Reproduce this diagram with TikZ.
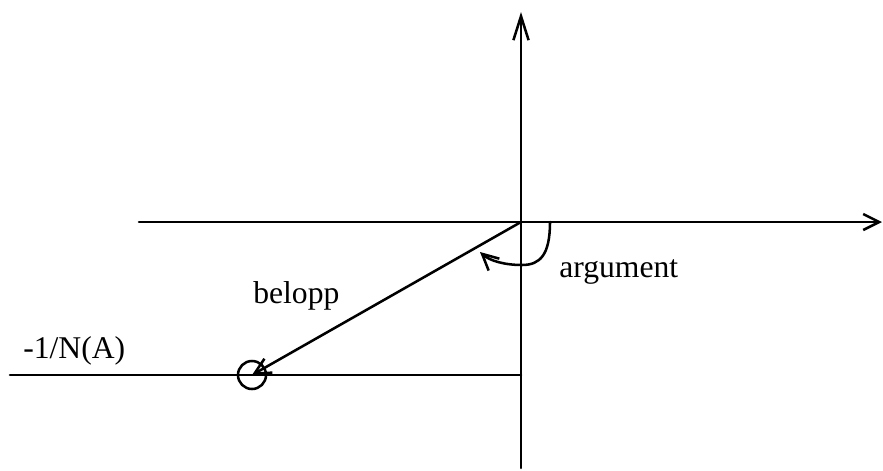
\documentclass[tikz,border=0pt]{standalone}
\usepackage{fontspec}
\setmainfont{Liberation Serif}
\usetikzlibrary{arrows.meta}

\begin{document}
\begin{tikzpicture}[x=0.025cm,y=-0.025cm,line cap=round,line join=round,
  axis/.style={line width=1.8pt},
  barb/.style={-{Straight Barb[length=0.4cm,width=0.4cm,line width=1.8pt]}},
  lbl/.style={font=\fontsize{22.5}{26}\selectfont,inner sep=0pt,anchor=base west}]

\useasboundingbox (0,0) rectangle (883,470);

% axes end points
\coordinate (O) at (521,222);
\coordinate (Xl) at (139,222);
\coordinate (Xr) at (882,222);
\coordinate (Yb) at (521,468);
\coordinate (Yt) at (521,12);

% describing function line and crossing point
\coordinate (Ll) at (10,375);
\coordinate (Lr) at (521,375);
\coordinate (P) at (252,375);

% arc for the argument
\coordinate (A1) at (550,222);
\coordinate (A2) at (522,265);
\coordinate (A3) at (480,252);

% axes
\draw[axis,barb] (Xl) -- (Xr);
\draw[axis,-{Straight Barb[length=0.6cm,width=0.38cm,line width=1.8pt]}] (Yb) -- (Yt);

% -1/N(A) line
\draw[axis] (Ll) -- (Lr);
\draw[axis] (P) circle (0.35cm);

% vector and its angle
\draw[axis,barb] (O) -- (P);
\draw[axis,barb] (A1) .. controls (550,255) and (540,265) .. (A2)
  .. controls (505,265) and (490,261) .. (A3);

% labels
\node[lbl] (belopp) at (253,303) {belopp};
\node[lbl] (arg) at (559,277) {argument};
\node[lbl] (NA) at (23,358) {-1/N(A)};

\end{tikzpicture}
\end{document}
